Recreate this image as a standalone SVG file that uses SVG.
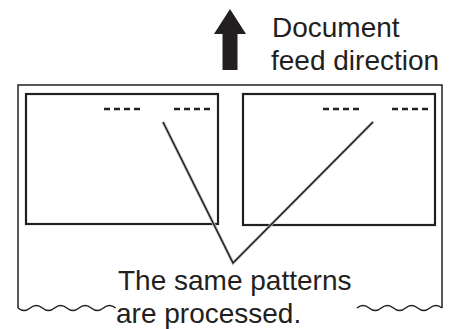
<svg xmlns="http://www.w3.org/2000/svg" width="453" height="329" viewBox="0 0 453 329">
<style>
.t{font-family:"Liberation Sans",Arial,sans-serif;font-size:28px;fill:#231f20}
.frame{fill:none;stroke:#231f20;stroke-width:1.5}
.box{fill:none;stroke:#231f20;stroke-width:2.2}
.dash{stroke:#231f20;stroke-width:2.5;stroke-dasharray:6 4}
.lead{fill:none;stroke:#231f20;stroke-width:1.5}
.halo{fill:none;stroke:#bbbbbb;stroke-width:3}
</style>
<rect width="453" height="329" fill="#ffffff"/>
<g id="feed-arrow">
<polygon points="230,9 246,34 237.5,34 237.5,70 222.5,70 222.5,34 214,34" fill="#231f20"/>
<text class="t" x="272" y="37">Document</text>
<text class="t" x="271" y="70">feed direction</text>
</g>
<g id="document">
<path class="frame" d="M18,308 V85 H442 V308"/>
<path class="frame" d="M18,308 q6.1,5 12.2,0 t12.2,0 t12.2,0 t12.2,0 t12.2,0 t12.2,0 t12.2,0 t12.2,0"/>
<path class="frame" d="M357,308 q6.07,-5 12.14,0 t12.14,0 t12.14,0 t12.14,0 t12.14,0 t12.14,0 t12.14,0"/>
</g>
<g id="pattern-left">
<rect class="box" x="26" y="94" width="192" height="130"/>
<line class="dash" x1="104" y1="109" x2="140" y2="109"/>
<line class="dash" x1="174" y1="109" x2="210" y2="109"/>
</g>
<g id="pattern-right">
<rect class="box" x="243" y="94" width="192" height="131"/>
<line class="dash" x1="323" y1="109" x2="359" y2="109"/>
<line class="dash" x1="392" y1="109" x2="428" y2="109"/>
</g>
<g id="connectors">
<polyline class="halo" points="163,122 233,263 373,122"/>
<polyline class="lead" points="163,122 233,263 373,122"/>
</g>
<g id="label">
<text class="t" x="118" y="290">The same patterns</text>
<text class="t" x="116" y="323">are processed.</text>
</g>
</svg>
